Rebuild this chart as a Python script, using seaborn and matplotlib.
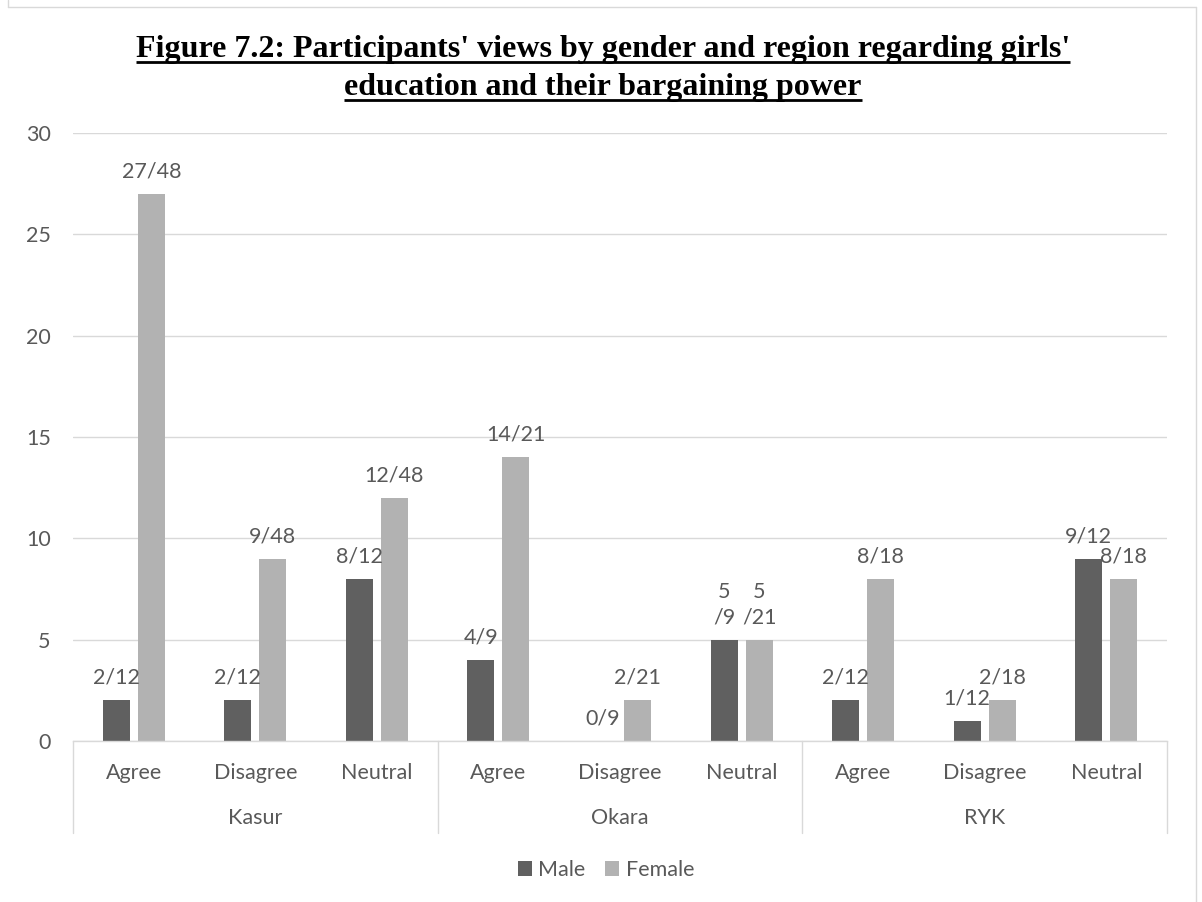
import matplotlib
matplotlib.use("Agg")
import matplotlib.pyplot as plt
import matplotlib.transforms as mtransforms
from matplotlib.lines import Line2D
from matplotlib.patches import Patch
import pandas as pd
import seaborn as sns

# ---- data -------------------------------------------------------------
regions = ["Kasur", "Okara", "RYK"]
responses = ["Agree", "Disagree", "Neutral"]
genders = ["Male", "Female"]

male_counts = [2, 2, 8, 4, 0, 5, 2, 1, 9]
male_totals = [12, 12, 12, 9, 9, 9, 12, 12, 12]
female_counts = [27, 9, 12, 14, 2, 5, 8, 2, 8]
female_totals = [48, 48, 48, 21, 21, 21, 18, 18, 18]

# labels that Excel wrapped onto two lines
wrapped_labels = [("Okara", "Neutral")]

y_ticks = [0, 5, 10, 15, 20, 25, 30]
title_lines = [
    "Figure 7.2: Participants' views by gender and region regarding girls'",
    "education and their bargaining power",
]

colors = {"Male": "#606060", "Female": "#b2b2b2"}
text_color = "#595959"
line_color = "#d9d9d9"

# ---- tidy frame -------------------------------------------------------
slots = [(r, s) for r in regions for s in responses]
slot_keys = [f"{r}|{s}" for r, s in slots]
rows = []
for i, (reg, resp) in enumerate(slots):
    rows.append(dict(slot=slot_keys[i], region=reg, response=resp, gender="Male",
                     count=male_counts[i], total=male_totals[i]))
    rows.append(dict(slot=slot_keys[i], region=reg, response=resp, gender="Female",
                     count=female_counts[i], total=female_totals[i]))
df = pd.DataFrame(rows)

# ---- figure -----------------------------------------------------------
sns.set_theme(style="white")
plt.rcParams["font.family"] = ["Lato", "DejaVu Sans"]
FS = 15.5

W, H = 1202, 902
fig = plt.figure(figsize=(W / 100, H / 100), dpi=100)
fig.patch.set_facecolor("white")

ax_left, ax_right, ax_bottom, ax_top = 73, 1167, 741, 133
ax = fig.add_axes([ax_left / W, 1 - ax_bottom / H,
                   (ax_right - ax_left) / W, (ax_bottom - ax_top) / H])

sns.barplot(data=df, x="slot", y="count", hue="gender", order=slot_keys,
            hue_order=genders, palette=colors, saturation=1, width=0.576,
            gap=0.229, errorbar=None, legend=False, linewidth=0, ax=ax)

ax.set_ylim(0, 30)
ax.set_xlim(-0.5, len(slots) - 0.5)
ax.set_yticks(y_ticks)
ax.set_yticklabels([str(v) for v in y_ticks])
ax.set_xticks(range(len(slots)))
ax.set_xticklabels([s for _, s in slots])
ax.set_xlabel("")
ax.set_ylabel("")
ax.tick_params(axis="both", length=0, labelsize=FS, labelcolor=text_color)
ax.tick_params(axis="y", pad=16)
ax.tick_params(axis="x", pad=16)

ax.yaxis.grid(True, color=line_color, linewidth=1.0)
ax.set_axisbelow(True)
for side in ["top", "right", "left"]:
    ax.spines[side].set_visible(False)
ax.spines["bottom"].set_color(line_color)
ax.spines["bottom"].set_linewidth(1.0)

# ---- value labels -----------------------------------------------------
def make_labels(counts, totals):
    out = []
    for (reg, resp), c, t in zip(slots, counts, totals):
        if (reg, resp) in wrapped_labels:
            out.append(f"{c}\n/{t}")
        else:
            out.append(f"{c}/{t}")
    return out

label_sets = {
    "Male": make_labels(male_counts, male_totals),
    "Female": make_labels(female_counts, female_totals),
}
for container, g in zip(ax.containers, genders):
    ax.bar_label(container, labels=label_sets[g], padding=9, fontsize=FS,
                 color=text_color, linespacing=1.3)

# ---- grouped category axis -------------------------------------------
blend = mtransforms.blended_transform_factory(ax.transData, ax.transAxes)
plot_h = ax_bottom - ax_top
sep_bottom = -(833 - ax_bottom) / plot_h
region_y = -(818 - ax_bottom) / plot_h
n_resp = len(responses)
for k in range(len(regions) + 1):
    xb = k * n_resp - 0.5
    ax.add_line(Line2D([xb, xb], [0, sep_bottom], transform=blend,
                       color=line_color, linewidth=1.0, clip_on=False))
for k, reg in enumerate(regions):
    xc = k * n_resp + (n_resp - 1) / 2
    ax.text(xc, region_y, reg, transform=blend, ha="center", va="center",
            fontsize=FS, color=text_color)

# ---- legend -----------------------------------------------------------
handles = [Patch(facecolor=colors[g], edgecolor="none") for g in genders]
fig.legend(handles, genders, loc="center", bbox_to_anchor=(606 / W, 1 - 870 / H),
           ncol=2, frameon=False, fontsize=FS, labelcolor=text_color,
           handlelength=0.65, handleheight=0.65, handletextpad=0.3,
           columnspacing=0.9)

# ---- chart border -----------------------------------------------------
bx0, bx1, by0 = 8, 1196, 7
for xs, ys in [([bx0, bx0], [0, by0]), ([bx0, bx1], [by0, by0]), ([bx1, bx1], [by0, H])]:
    fig.add_artist(Line2D([x / W for x in xs], [1 - y / H for y in ys],
                          transform=fig.transFigure, color=line_color, linewidth=1.0))

# ---- underlined title -------------------------------------------------
title_baselines = [57, 95]
title_texts = []
for line, yb in zip(title_lines, title_baselines):
    t = fig.text(603 / W, 1 - yb / H, line, ha="center", va="baseline",
                 fontsize=23, fontweight="bold", color="black",
                 family=["Liberation Serif", "DejaVu Serif"])
    title_texts.append((t, yb))

fig.canvas.draw()
renderer = fig.canvas.get_renderer()
for t, yb in title_texts:
    bb = t.get_window_extent(renderer)
    yu = 1 - (yb + 5) / H
    fig.add_artist(Line2D([bb.x0 / W, bb.x1 / W], [yu, yu], transform=fig.transFigure,
                          color="black", linewidth=2.0, solid_capstyle="butt"))

fig.savefig("out.png", dpi=100, facecolor="white")
